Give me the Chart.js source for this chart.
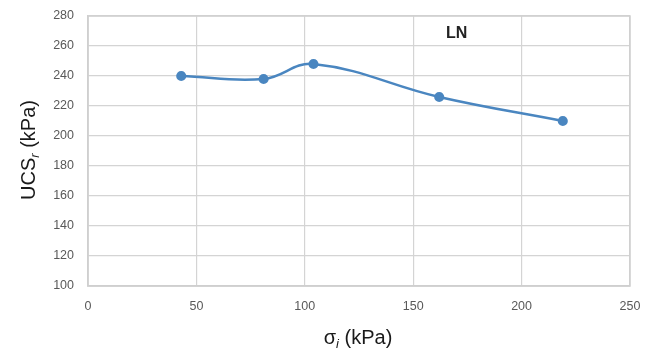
<!DOCTYPE html>
<html lang="en">
  <head>
    <meta charset="UTF-8" />
    <script src="https://cdn.jsdelivr.net/npm/chart.js"></script>
    <title>UCS vs sigma</title>
    <style>
      html, body { margin: 0; padding: 0; background: #fff; }
      #wrap { width: 656px; height: 356px; }
    </style>
  </head>
  <body>
    <div id="wrap">
      <canvas id="myChart"></canvas>
    </div>
    <script>
      // sigma_i (kPa) and UCS_r (kPa)
      const sigmaI = [43, 81, 104, 162, 219];
      const ucsR = [240, 238, 248, 226, 210];
      const xTicks = [0, 50, 100, 150, 200, 250];
      const yTicks = [100, 120, 140, 160, 180, 200, 220, 240, 260, 280];
      const seriesName = "LN";

      const points = sigmaI.map((x, i) => ({ x: x, y: ucsR[i] }));

      // draws a label made of normal and subscript pieces, centred on (cx, cy)
      function drawParts(ctx, parts, cx, cy, rot) {
        ctx.save();
        ctx.translate(cx, cy);
        ctx.rotate(rot);
        let total = 0;
        parts.forEach(p => {
          ctx.font = p.font;
          p.w = ctx.measureText(p.text).width;
          total += p.w;
        });
        let x = -total / 2;
        ctx.textBaseline = "middle";
        ctx.textAlign = "left";
        ctx.fillStyle = "#1a1a1a";
        parts.forEach(p => {
          ctx.font = p.font;
          ctx.fillText(p.text, x, p.dy || 0);
          x += p.w;
        });
        ctx.restore();
      }

      const labelsPlugin = {
        id: "axisLabels",
        afterDraw(chart) {
          const ctx = chart.ctx;
          const big = "20px 'Liberation Sans', Arial, sans-serif";
          const sub = "italic 13px 'Liberation Sans', Arial, sans-serif";
          drawParts(ctx, [
            { text: "UCS", font: big },
            { text: "r", font: sub, dy: 6 },
            { text: " (kPa)", font: big }
          ], 29, 150, -Math.PI / 2);
          drawParts(ctx, [
            { text: "σ", font: big },
            { text: "i", font: sub, dy: 6 },
            { text: " (kPa)", font: big }
          ], 358, 338, 0);

          // series label inside the plot
          ctx.save();
          ctx.font = "bold 16px 'Liberation Sans', Arial, sans-serif";
          ctx.fillStyle = "#222";
          ctx.textAlign = "center";
          ctx.textBaseline = "middle";
          ctx.fillText(seriesName, chart.scales.x.getPixelForValue(170), chart.scales.y.getPixelForValue(268));
          ctx.restore();
        }
      };

      const tickFont = { family: "'Liberation Sans', Arial, sans-serif", size: 12.5 };

      const config = {
        type: "scatter",
        data: {
          datasets: [
            {
              label: seriesName,
              data: points,
              showLine: true,
              tension: 0.4,
              borderColor: "#4a86c0",
              backgroundColor: "#4a86c0",
              borderWidth: 2.5,
              pointRadius: 3.8,
              pointHoverRadius: 3.8,
            },
          ],
        },
        options: {
          responsive: true,
          maintainAspectRatio: false,
          animation: false,
          layout: { padding: { top: 16, right: 26, left: 0, bottom: 0 } },
          plugins: {
            legend: { display: false },
            tooltip: { enabled: false },
          },
          scales: {
            x: {
              type: "linear",
              min: xTicks[0],
              max: xTicks[xTicks.length - 1],
              afterBuildTicks(scale) {
                scale.ticks = xTicks.map(v => ({ value: v }));
              },
              afterFit(scale) {
                scale.height = 70;
                scale.paddingLeft = 0;
                scale.paddingRight = 0;
              },
              grid: { color: "#d4d4d4", lineWidth: 1.2, drawTicks: false },
              border: { color: "#cfcfcf", width: 1.5 },
              ticks: { color: "#595959", font: tickFont, padding: 13 },
            },
            y: {
              min: yTicks[0],
              max: yTicks[yTicks.length - 1],
              afterBuildTicks(scale) {
                scale.ticks = yTicks.map(v => ({ value: v }));
              },
              afterFit(scale) {
                scale.width = 88;
                scale.paddingTop = 0;
                scale.paddingBottom = 0;
              },
              grid: { color: "#d4d4d4", lineWidth: 1.2, drawTicks: false },
              border: { color: "#cfcfcf", width: 1.5 },
              ticks: { color: "#595959", font: tickFont, padding: 14 },
            },
          },
        },
        plugins: [
          labelsPlugin,
          {
            id: "frame",
            beforeDatasetsDraw(chart) {
              const { ctx, chartArea: a } = chart;
              ctx.save();
              ctx.strokeStyle = "#cfcfcf";
              ctx.lineWidth = 1.5;
              ctx.strokeRect(a.left, a.top, a.right - a.left, a.bottom - a.top);
              ctx.restore();
            },
          },
        ],
      };

      var myChart = new Chart(document.getElementById("myChart"), config);
    </script>
  </body>
</html>
